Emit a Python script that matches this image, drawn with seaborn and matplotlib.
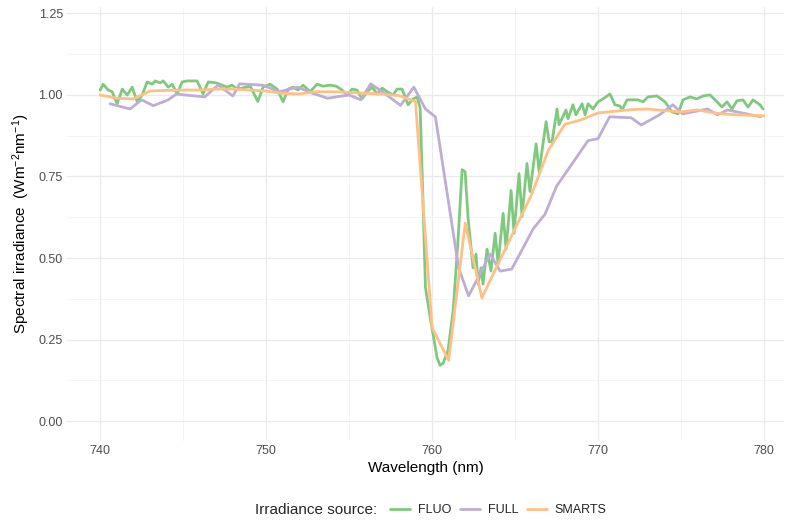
#!/usr/bin/env python3
"""Spectral irradiance around the O2-A band for three irradiance sources."""

import pandas as pd
import matplotlib
matplotlib.use("Agg")
import matplotlib.pyplot as plt
from matplotlib.ticker import MultipleLocator
import seaborn as sns

# --- data --------------------------------------------------------------
fluo_wl = [
    740.00, 740.18, 740.48, 740.72, 741.02, 741.33, 741.63, 741.93, 742.23, 742.53,
    742.83, 743.13, 743.31, 743.61, 743.80, 744.10, 744.34, 744.64, 744.94, 745.24,
    745.84, 746.20, 746.51, 746.99, 747.35, 747.65, 747.95, 748.25, 748.55, 749.04,
    749.30, 749.50, 749.82, 750.24, 750.66, 751.02, 751.33, 751.63, 751.93, 752.23,
    752.65, 753.07, 753.43, 753.86, 754.22, 754.58, 754.88, 755.18, 755.48, 755.78,
    756.08, 756.39, 756.69, 756.99, 757.29, 757.65, 757.89, 758.19, 758.55, 758.86,
    759.10, 759.28, 759.45, 759.60, 759.88, 760.30, 760.48, 760.66, 760.96, 761.27,
    761.57, 761.81, 761.99, 762.17, 762.47, 762.65, 762.77, 762.95, 763.07, 763.31,
    763.55, 763.80, 763.98, 764.28, 764.46, 764.76, 764.94, 765.24, 765.42, 765.72,
    765.90, 766.27, 766.45, 766.87, 767.05, 767.23, 767.53, 767.65, 768.07, 768.19,
    768.49, 768.67, 769.04, 769.22, 769.40, 769.70, 770.00, 770.30, 770.72, 771.02,
    771.33, 771.45, 771.75, 772.11, 772.41, 772.71, 773.01, 773.55, 774.04, 774.46,
    774.82, 775.12, 775.54, 775.96, 776.33, 776.75, 777.17, 777.47, 777.77, 778.07,
    778.37, 778.73, 779.04, 779.34, 779.76, 779.94,
]
fluo_val = [
    1.015, 1.033, 1.015, 1.010, 0.973, 1.018, 1.000, 1.024, 0.979, 1.000,
    1.040, 1.033, 1.043, 1.037, 1.043, 1.024, 1.033, 1.003, 1.040, 1.043,
    1.043, 1.003, 1.040, 1.037, 1.030, 1.024, 1.030, 1.018, 1.021, 1.027,
    1.000, 0.980, 1.024, 1.033, 1.018, 0.979, 1.018, 1.024, 1.015, 1.030,
    1.010, 1.033, 1.027, 1.030, 1.027, 1.015, 1.000, 1.018, 1.015, 0.988,
    1.010, 1.024, 1.003, 1.021, 1.010, 1.000, 1.018, 1.018, 0.970, 0.988,
    0.994, 0.960, 0.680, 0.410, 0.320, 0.195, 0.171, 0.177, 0.216, 0.338,
    0.561, 0.771, 0.765, 0.622, 0.470, 0.512, 0.420, 0.470, 0.420, 0.527,
    0.460, 0.576, 0.482, 0.637, 0.527, 0.707, 0.576, 0.759, 0.628, 0.790,
    0.704, 0.850, 0.765, 0.918, 0.857, 0.857, 0.957, 0.909, 0.954, 0.927,
    0.970, 0.939, 0.973, 0.939, 0.973, 0.957, 0.979, 0.988, 1.003, 0.970,
    0.966, 0.954, 0.985, 0.985, 0.985, 0.979, 0.994, 0.997, 0.979, 0.948,
    0.942, 0.985, 0.994, 0.988, 0.997, 1.000, 0.979, 0.963, 0.979, 0.957,
    0.982, 0.985, 0.963, 0.985, 0.970, 0.957,
]

full_wl = [
    740.6, 741.8, 742.5, 743.2, 744.1, 744.6, 745.1, 746.3, 747.1, 748.0,
    748.4, 749.8, 750.8, 751.9, 752.8, 753.7, 755.0, 755.7, 756.3, 757.0,
    758.1, 758.9, 759.6, 760.2, 761.6, 762.2, 763.5, 764.1, 764.8, 766.1,
    766.8, 767.5, 769.4, 770.0, 770.7, 772.0, 772.6, 773.7, 774.5, 775.1,
    776.6, 777.2, 777.8, 779.8,
]
full_val = [
    0.973, 0.957, 0.985, 0.967, 0.985, 1.003, 1.000, 0.994, 1.030, 0.997,
    1.034, 1.030, 1.010, 1.024, 1.005, 0.990, 1.000, 0.985, 1.034, 1.010,
    0.968, 1.024, 0.957, 0.933, 0.470, 0.384, 0.512, 0.460, 0.466, 0.590,
    0.634, 0.720, 0.860, 0.866, 0.933, 0.930, 0.908, 0.939, 0.970, 0.942,
    0.957, 0.939, 0.954, 0.933,
]

smarts_wl = list(range(740, 781))
smarts_val = [
    1.000, 0.990, 0.988, 1.012, 1.014, 1.015, 1.015, 1.018, 1.018, 1.015,
    1.012, 1.005, 1.003, 1.010, 1.010, 1.008, 1.005, 1.003, 0.998, 0.980,
    0.287, 0.186, 0.607, 0.378, 0.484, 0.590, 0.695, 0.830, 0.910, 0.924,
    0.945, 0.950, 0.955, 0.957, 0.952, 0.948, 0.954, 0.945, 0.940, 0.938,
    0.936,
]

sources = ["FLUO", "FULL", "SMARTS"]
colors = {"FLUO": "#7FC97F", "FULL": "#BEAED4", "SMARTS": "#FDC086"}

df = pd.concat([
    pd.DataFrame({"Wavelength": fluo_wl, "Irradiance": fluo_val, "Source": "FLUO"}),
    pd.DataFrame({"Wavelength": full_wl, "Irradiance": full_val, "Source": "FULL"}),
    pd.DataFrame({"Wavelength": smarts_wl, "Irradiance": smarts_val, "Source": "SMARTS"}),
])

# --- style ---------------------------------------------------------------
sns.set_theme(style="white")
plt.rcParams["font.family"] = ["Liberation Sans", "DejaVu Sans"]
plt.rcParams["mathtext.fontset"] = "custom"
plt.rcParams["mathtext.rm"] = "Liberation Sans"
plt.rcParams["mathtext.it"] = "Liberation Sans:italic"

fig = plt.figure(figsize=(7.91, 5.23), dpi=100)
ax = fig.add_axes([0.0847, 0.1568, 0.9063, 0.83])

sns.lineplot(
    data=df, x="Wavelength", y="Irradiance", hue="Source",
    hue_order=sources, palette=colors, linewidth=2.0, ax=ax,
)

ax.set_xlim(738.0, 781.2)
ax.set_ylim(-0.061, 1.27)
ax.xaxis.set_major_locator(MultipleLocator(10))
ax.xaxis.set_minor_locator(MultipleLocator(5))
ax.yaxis.set_major_locator(MultipleLocator(0.25))
ax.yaxis.set_minor_locator(MultipleLocator(0.125))
ax.yaxis.set_major_formatter(matplotlib.ticker.FormatStrFormatter("%.2f"))

ax.grid(which="major", color="#EBEBEB", linewidth=1.0)
ax.grid(which="minor", color="#F2F2F2", linewidth=0.6)
ax.set_axisbelow(True)
for s in ax.spines.values():
    s.set_visible(False)
ax.tick_params(which="both", length=0, labelsize=9, labelcolor="#4D4D4D", pad=3)

ax.set_xlabel("Wavelength (nm)", fontsize=11, color="black", labelpad=3)
ax.set_ylabel(r"Spectral irradiance  (Wm$^{-2}$nm$^{-1}$)", fontsize=11,
              color="black", labelpad=5)

# legend at the bottom, ggplot-like
handles, labels = ax.get_legend_handles_labels()
ax.get_legend().remove()
fig.legend(
    handles, labels, loc="center", bbox_to_anchor=(0.630, 0.024), ncol=3,
    frameon=False, fontsize=9, handlelength=1.6, handletextpad=0.6,
    columnspacing=0.7,
)
fig.text(0.4765, 0.024, "Irradiance source:", ha="right", va="center", fontsize=11)

plt.savefig("out.png", dpi=100)
plt.close()
